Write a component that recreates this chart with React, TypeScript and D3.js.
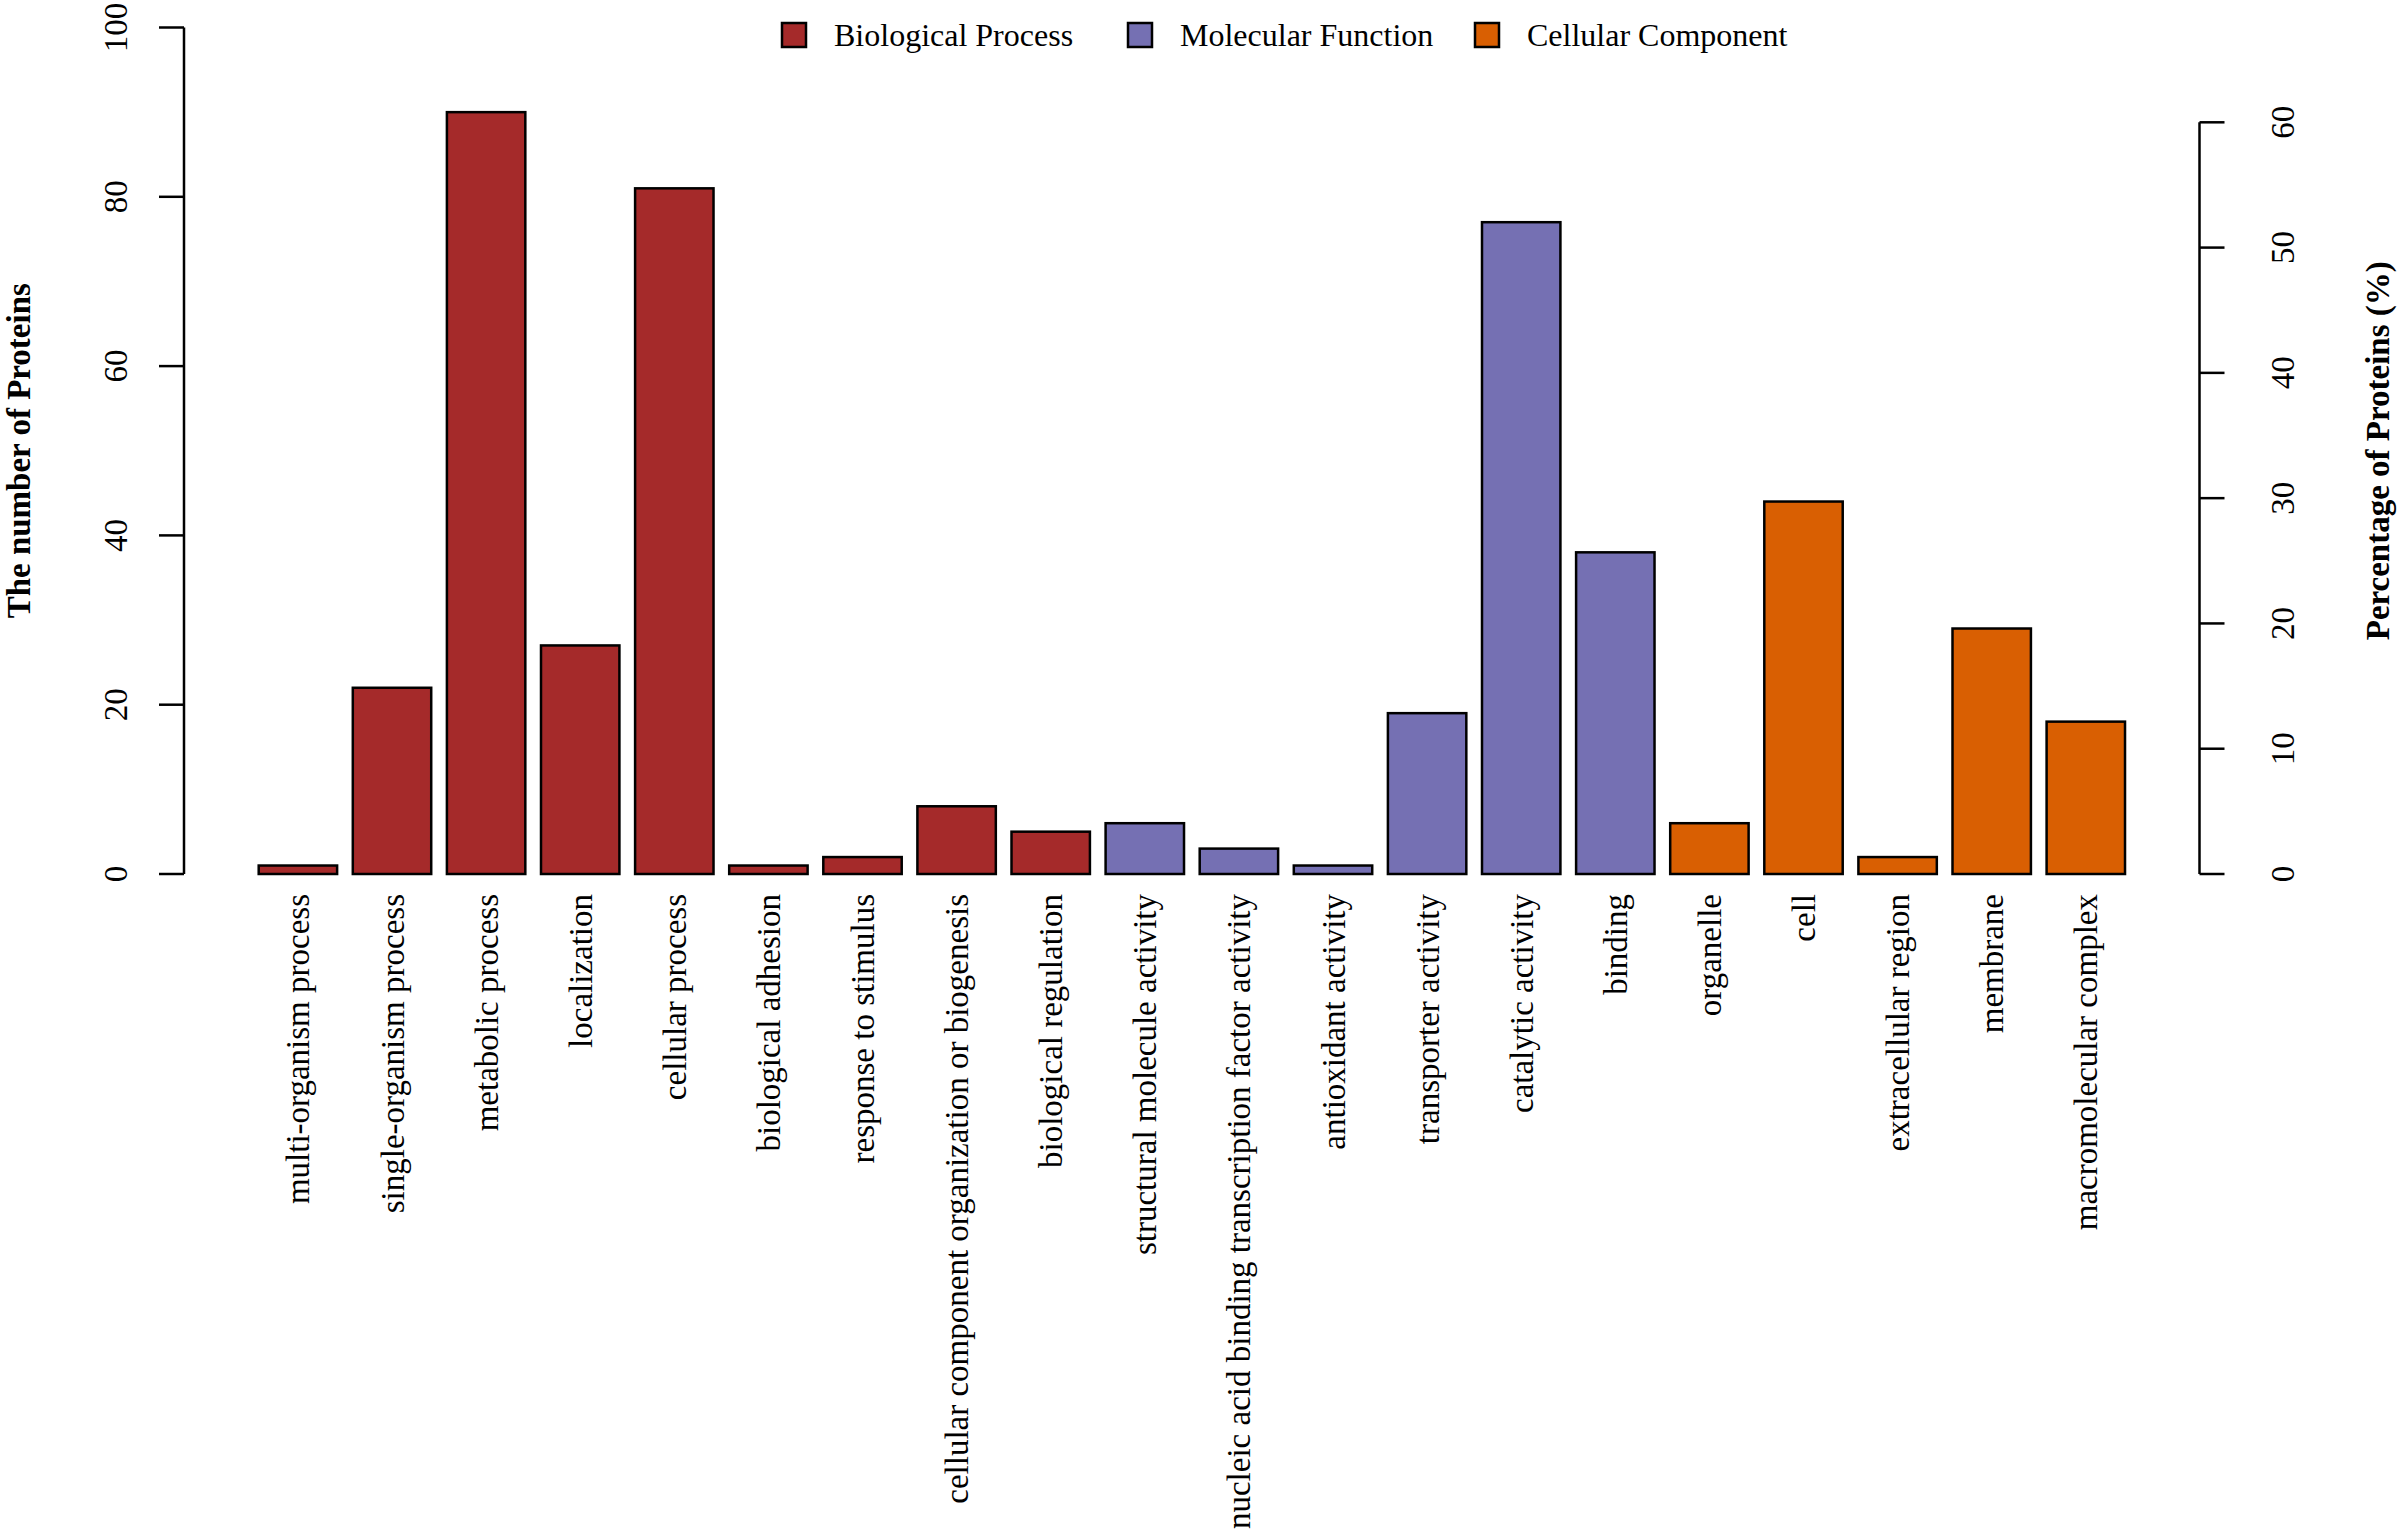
import * as d3 from 'd3';

// GO categories, in plotted order
const terms = [
  'multi-organism process',
  'single-organism process',
  'metabolic process',
  'localization',
  'cellular process',
  'biological adhesion',
  'response to stimulus',
  'cellular component organization or biogenesis',
  'biological regulation',
  'structural molecule activity',
  'nucleic acid binding transcription factor activity',
  'antioxidant activity',
  'transporter activity',
  'catalytic activity',
  'binding',
  'organelle',
  'cell',
  'extracellular region',
  'membrane',
  'macromolecular complex',
];

const counts = [1, 22, 90, 27, 81, 1, 2, 8, 5, 6, 3, 1, 19, 77, 38, 6, 44, 2, 29, 18];

const groups = [
  'Biological Process', 'Biological Process', 'Biological Process', 'Biological Process',
  'Biological Process', 'Biological Process', 'Biological Process', 'Biological Process',
  'Biological Process', 'Molecular Function', 'Molecular Function', 'Molecular Function',
  'Molecular Function', 'Molecular Function', 'Molecular Function', 'Cellular Component',
  'Cellular Component', 'Cellular Component', 'Cellular Component', 'Cellular Component',
];

const groupNames = ['Biological Process', 'Molecular Function', 'Cellular Component'];
const groupColors = ['#A52A2A', '#7570B3', '#D95F02'];

const leftTicks = [0, 20, 40, 60, 80, 100];
const rightTicks = [0, 10, 20, 30, 40, 50, 60];
const totalProteins = 148;

const W = 2400;
const H = 1533;
const FONT = '"Liberation Serif", "Times New Roman", serif';

export default function App() {
  const x0 = 258.7;
  const step = 94.1;
  const baseY = 874;
  const topY = 27.5;
  const leftX = 184;
  const rightX = 2199.5;

  const x = d3.scaleBand<string>()
    .domain(terms)
    .range([x0, x0 + step * (terms.length - 0.2 / 1.2)])
    .paddingInner(0.2 / 1.2)
    .paddingOuter(0);

  const y = d3.scaleLinear().domain([0, 100]).range([baseY, topY]);
  // percentage axis shares the baseline with the count axis
  const yPct = d3.scaleLinear()
    .domain([0, 100 * 100 / totalProteins])
    .range([baseY, topY]);

  const color = d3.scaleOrdinal<string, string>().domain(groupNames).range(groupColors);

  const legendX = [782, 1128, 1475];
  const legendY = 35;

  return (
    <svg
      width={W}
      height={H}
      viewBox={`0 0 ${W} ${H}`}
      style={{ position: 'absolute', left: 0, top: 0, background: '#fff' }}
      fontFamily={FONT}
    >
      <rect x={0} y={0} width={W} height={H} fill="#fff" />

      {/* bars */}
      <g>
        {terms.map((t, i) => (
          <rect
            key={t}
            x={x(t)}
            y={y(counts[i])}
            width={x.bandwidth()}
            height={y(0) - y(counts[i])}
            fill={color(groups[i])}
            stroke="#000"
            strokeWidth={2.5}
          />
        ))}
      </g>

      {/* category labels */}
      <g fontSize={33} fill="#000">
        {terms.map((t) => {
          const cx = (x(t) as number) + x.bandwidth() / 2;
          return (
            <text
              key={t}
              transform={`translate(${cx},${baseY + 20}) rotate(-90)`}
              textAnchor="end"
              dy="0.35em"
            >
              {t}
            </text>
          );
        })}
      </g>

      {/* left axis */}
      <g stroke="#000" strokeWidth={2.5}>
        <line x1={leftX} x2={leftX} y1={y(100)} y2={y(0)} />
        {leftTicks.map((v) => (
          <line key={v} x1={leftX - 25} x2={leftX} y1={y(v)} y2={y(v)} />
        ))}
      </g>
      <g fontSize={33} fill="#000">
        {leftTicks.map((v) => (
          <text
            key={v}
            transform={`translate(${115},${y(v)}) rotate(-90)`}
            textAnchor="middle"
            dy="0.35em"
          >
            {v}
          </text>
        ))}
      </g>
      <text
        transform={`translate(${18},${(topY + baseY) / 2}) rotate(-90)`}
        textAnchor="middle"
        dy="0.35em"
        fontSize={33}
        fontWeight="bold"
      >
        The number of Proteins
      </text>

      {/* right axis */}
      <g stroke="#000" strokeWidth={2.5}>
        <line x1={rightX} x2={rightX} y1={yPct(60)} y2={yPct(0)} />
        {rightTicks.map((v) => (
          <line key={v} x1={rightX} x2={rightX + 25} y1={yPct(v)} y2={yPct(v)} />
        ))}
      </g>
      <g fontSize={33} fill="#000">
        {rightTicks.map((v) => (
          <text
            key={v}
            transform={`translate(${2282},${yPct(v)}) rotate(-90)`}
            textAnchor="middle"
            dy="0.35em"
          >
            {v}
          </text>
        ))}
      </g>
      <text
        transform={`translate(${2377},${(topY + baseY) / 2}) rotate(-90)`}
        textAnchor="middle"
        dy="0.35em"
        fontSize={33}
        fontWeight="bold"
      >
        Percentage of Proteins (%)
      </text>

      {/* legend */}
      <g fontSize={32}>
        {groupNames.map((g, i) => (
          <g key={g}>
            <rect
              x={legendX[i]}
              y={legendY - 12}
              width={24}
              height={24}
              fill={color(g)}
              stroke="#000"
              strokeWidth={2.5}
            />
            <text x={legendX[i] + 52} y={legendY} dy="0.35em">
              {g}
            </text>
          </g>
        ))}
      </g>
    </svg>
  );
}
